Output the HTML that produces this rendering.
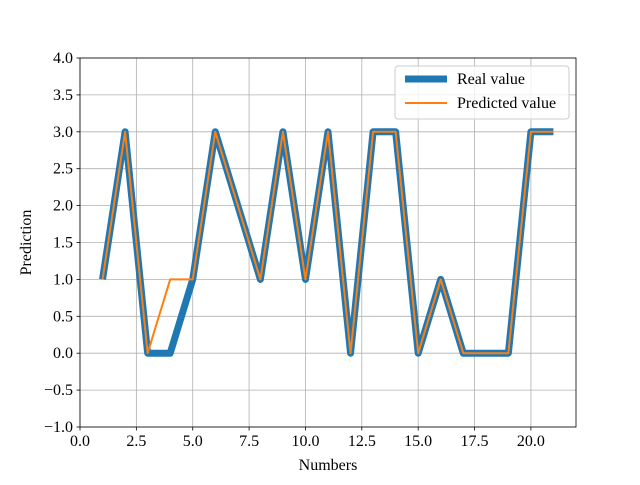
<!DOCTYPE html>
<html><head><meta charset="utf-8"><style>
body{margin:0;background:#fff}
svg text{font-family:"Liberation Serif",serif;font-size:16px;fill:#000}
</style></head><body>
<svg id="c" width="640" height="480"></svg>
<script>
const xs=[1,2,3,4,5,6,7,8,9,10,11,12,13,14,15,16,17,18,19,20,21];
const realValues=[1,3,0,0,1,3,2,1,3,1,3,0,3,3,0,1,0,0,0,3,3];
const predictedValues=[1,3,0,1,1,3,2,1,3,1,3,0,3,3,0,1,0,0,0,3,3];
const xTicks=[0,2.5,5,7.5,10,12.5,15,17.5,20];
const yTicks=[-1,-0.5,0,0.5,1,1.5,2,2.5,3,3.5,4];
const L=80,R=576,T=58,B=427,x0=0,x1=22,y0=-1,y1=4;
const sx=v=>L+(v-x0)/(x1-x0)*(R-L), sy=v=>B-(v-y0)/(y1-y0)*(B-T);
const svg=document.getElementById('c'),NS='http://www.w3.org/2000/svg';
const fmt=v=>v.toFixed(1).replace('-','\u2212');
function mk(t,a,p){const e=document.createElementNS(NS,t);for(const k in a)e.setAttribute(k,a[k]);(p||svg).appendChild(e);return e;}
xTicks.forEach(v=>{
 const g=mk('line',{x1:sx(v),x2:sx(v),y1:T,y2:B,stroke:'#b0b0b0','stroke-width':0.8});
 
 
 mk('line',{x1:sx(v),x2:sx(v),y1:B,y2:B+3.5,stroke:'#000','stroke-width':0.8});
 const t=mk('text',{x:sx(v),y:B+19,'text-anchor':'middle'});t.textContent=fmt(v);
 
 
});
yTicks.forEach(v=>{
 const g=mk('line',{x1:L,x2:R,y1:sy(v),y2:sy(v),stroke:'#b0b0b0','stroke-width':0.8});
 
 
 mk('line',{x1:L-3.5,x2:L,y1:sy(v),y2:sy(v),stroke:'#000','stroke-width':0.8});
 const t=mk('text',{x:L-7,y:sy(v)+5,'text-anchor':'end'});t.textContent=fmt(v);
 
 
});
const pr=mk('polyline',{points:xs.map((x,i)=>sx(x)+','+sy(realValues[i])).join(' '),fill:'none',stroke:'#1f77b4','stroke-width':7,'stroke-linejoin':'round'});


const pp=mk('polyline',{points:xs.map((x,i)=>sx(x)+','+sy(predictedValues[i])).join(' '),fill:'none',stroke:'#ff7f0e','stroke-width':2,'stroke-linejoin':'round'});


const fr=mk('rect',{x:L,y:T,width:R-L,height:B-T,fill:'none',stroke:'#000','stroke-width':0.8});


const xl=mk('text',{x:(L+R)/2,y:470,'text-anchor':'middle'});xl.textContent='Numbers';


const yl=mk('text',{x:31,y:(T+B)/2,'text-anchor':'middle',transform:'rotate(-90 31 '+((T+B)/2)+')'});yl.textContent='Prediction';


const lg=mk('g',{});


mk('rect',{x:395,y:66,width:174,height:53,rx:3,fill:'#fff','fill-opacity':0.8,stroke:'#ccc','stroke-width':1},lg);
mk('line',{x1:405,x2:447,y1:79,y2:79,stroke:'#1f77b4','stroke-width':7},lg);
const t1=mk('text',{x:457,y:84},lg);t1.textContent='Real value';


mk('line',{x1:405,x2:447,y1:103,y2:103,stroke:'#ff7f0e','stroke-width':2},lg);
const t2=mk('text',{x:457,y:108},lg);t2.textContent='Predicted value';


</script>
</body></html>
